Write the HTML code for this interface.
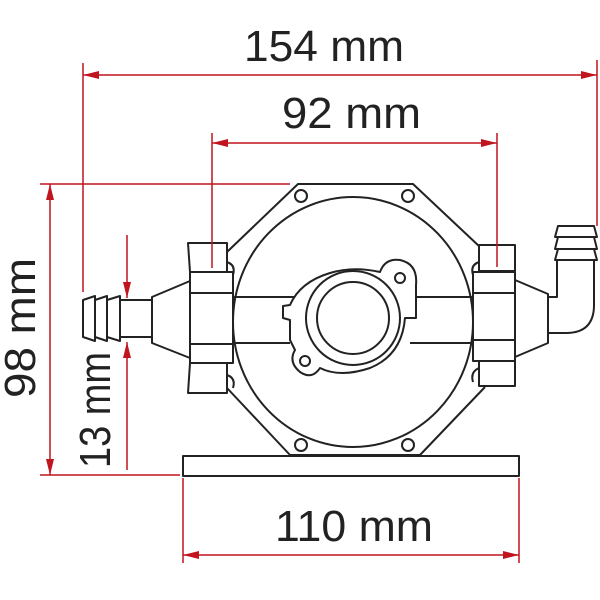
<!DOCTYPE html>
<html><head><meta charset="utf-8"><style>html,body{margin:0;padding:0;background:#fff}svg{display:block}</style></head>
<body>
<svg width="600" height="600" viewBox="0 0 600 600" xmlns="http://www.w3.org/2000/svg">
<defs>
<marker id="a" viewBox="0 0 16 8" refX="16" refY="4" markerWidth="16" markerHeight="8" markerUnits="userSpaceOnUse" orient="auto-start-reverse"><path d="M0,0 L16,4 L0,8 Z" fill="#c0141e"/></marker>
</defs>
<g fill="none" stroke="#222" stroke-width="2" stroke-linejoin="round">
<path d="M227,252 L298,184 L413,184 L480,247 M485,387 L420,455 L290,455 L227,388"/>
<ellipse cx="353" cy="322" rx="120" ry="125" fill="#fff"/>
<circle cx="301" cy="196" r="6"/><circle cx="408" cy="196" r="6"/>
<circle cx="301" cy="445" r="6"/><circle cx="408" cy="445" r="6"/>
<rect x="183" y="456" width="336" height="20" fill="#fff"/>
<path d="M233,297 L305,297 M233,343 L290,343 M400,297 L473,297 M410,343 L473,343"/>
<path d="M290,305 Q300,282 330,273 Q353,266 380,272 Q385,258 400,260 Q418,264 416,285 L416,318 L405,318 Q402,355 370,368 Q340,378 320,368 Q312,380 300,372 Q288,362 295,350 L290,340 L290,320 L283,318 L283,306 Z" fill="#fff"/>
<circle cx="400" cy="278" r="5"/><circle cx="305" cy="361" r="5"/>
<circle cx="353" cy="318" r="47"/>
<circle cx="353" cy="318" r="36"/>
<!-- left clamp -->
<path d="M190,281 L152,297 L152,343 L190,358"/>
<path d="M152,300 L120,300 L120,337 L152,337"/>
<path d="M83,300 L95,296 L95,341 L83,337 Z M95,300 L107,296 L107,341 L95,337 Z M107,300 L120,296 L120,341 L107,337 Z" fill="#fff"/>
<rect x="190" y="272" width="43" height="91" fill="#fff"/>
<path d="M190,293 L233,293 M190,344 L233,344"/>
<path d="M188,243 L227,243 L227,272 L190,272 Z M190,363 L227,363 L227,393 L188,393 Z" fill="#fff"/>
<path d="M227,262 Q236,265 233,275 M227,375 Q236,378 233,388"/>
<!-- right clamp -->
<path d="M515,280 L548,294 L548,343 L515,357"/>
<path d="M548,297 L557,297 L557,260 M594,260 L594,305 Q594,333 566,333 L548,333"/>
<path d="M558,226 L594,226 L597,237 L555,237 Z M558,237 L594,237 L597,249 L555,249 Z M558,249 L594,249 L597,260 L555,260 Z" fill="#fff"/>
<rect x="473" y="272" width="42" height="89" fill="#fff"/>
<path d="M473,293 L515,293 M473,340 L515,340"/>
<path d="M479,245 L515,245 L515,271 L479,271 Z M479,361 L515,361 L515,386 L479,386 Z" fill="#fff"/>
<path d="M479,262 Q470,265 473,275 M479,368 Q470,372 473,382"/>
</g>
<g stroke="#c0141e" stroke-width="1.5" fill="none">
<path d="M83,63 L83,292 M597,60 L597,226 M212,133 L212,268 M497,133 L497,267 M40,184 L290,184 M40,475 L180,475 M183,478 L183,563 M519,478 L519,563"/>
<line x1="83" y1="75" x2="597" y2="75" marker-start="url(#a)" marker-end="url(#a)"/>
<line x1="212" y1="143" x2="497" y2="143" marker-start="url(#a)" marker-end="url(#a)"/>
<line x1="50" y1="184" x2="50" y2="475" marker-start="url(#a)" marker-end="url(#a)"/>
<line x1="183" y1="555" x2="519" y2="555" marker-start="url(#a)" marker-end="url(#a)"/>
<line x1="127" y1="235" x2="127" y2="298" marker-end="url(#a)"/>
<line x1="127" y1="470" x2="127" y2="342" marker-end="url(#a)"/>
</g>
<g font-family="Liberation Sans, sans-serif" font-size="44" fill="#222">
<text x="244" y="61" textLength="160" lengthAdjust="spacingAndGlyphs">154 mm</text>
<text x="282" y="128" textLength="139" lengthAdjust="spacingAndGlyphs">92 mm</text>
<text x="275" y="541" textLength="158" lengthAdjust="spacingAndGlyphs">110 mm</text>
<text transform="translate(35,398) rotate(-90)" textLength="140" lengthAdjust="spacingAndGlyphs">98 mm</text>
<text transform="translate(110,468) rotate(-90)" textLength="116" lengthAdjust="spacingAndGlyphs">13 mm</text>
</g>
</svg>
</body></html>
